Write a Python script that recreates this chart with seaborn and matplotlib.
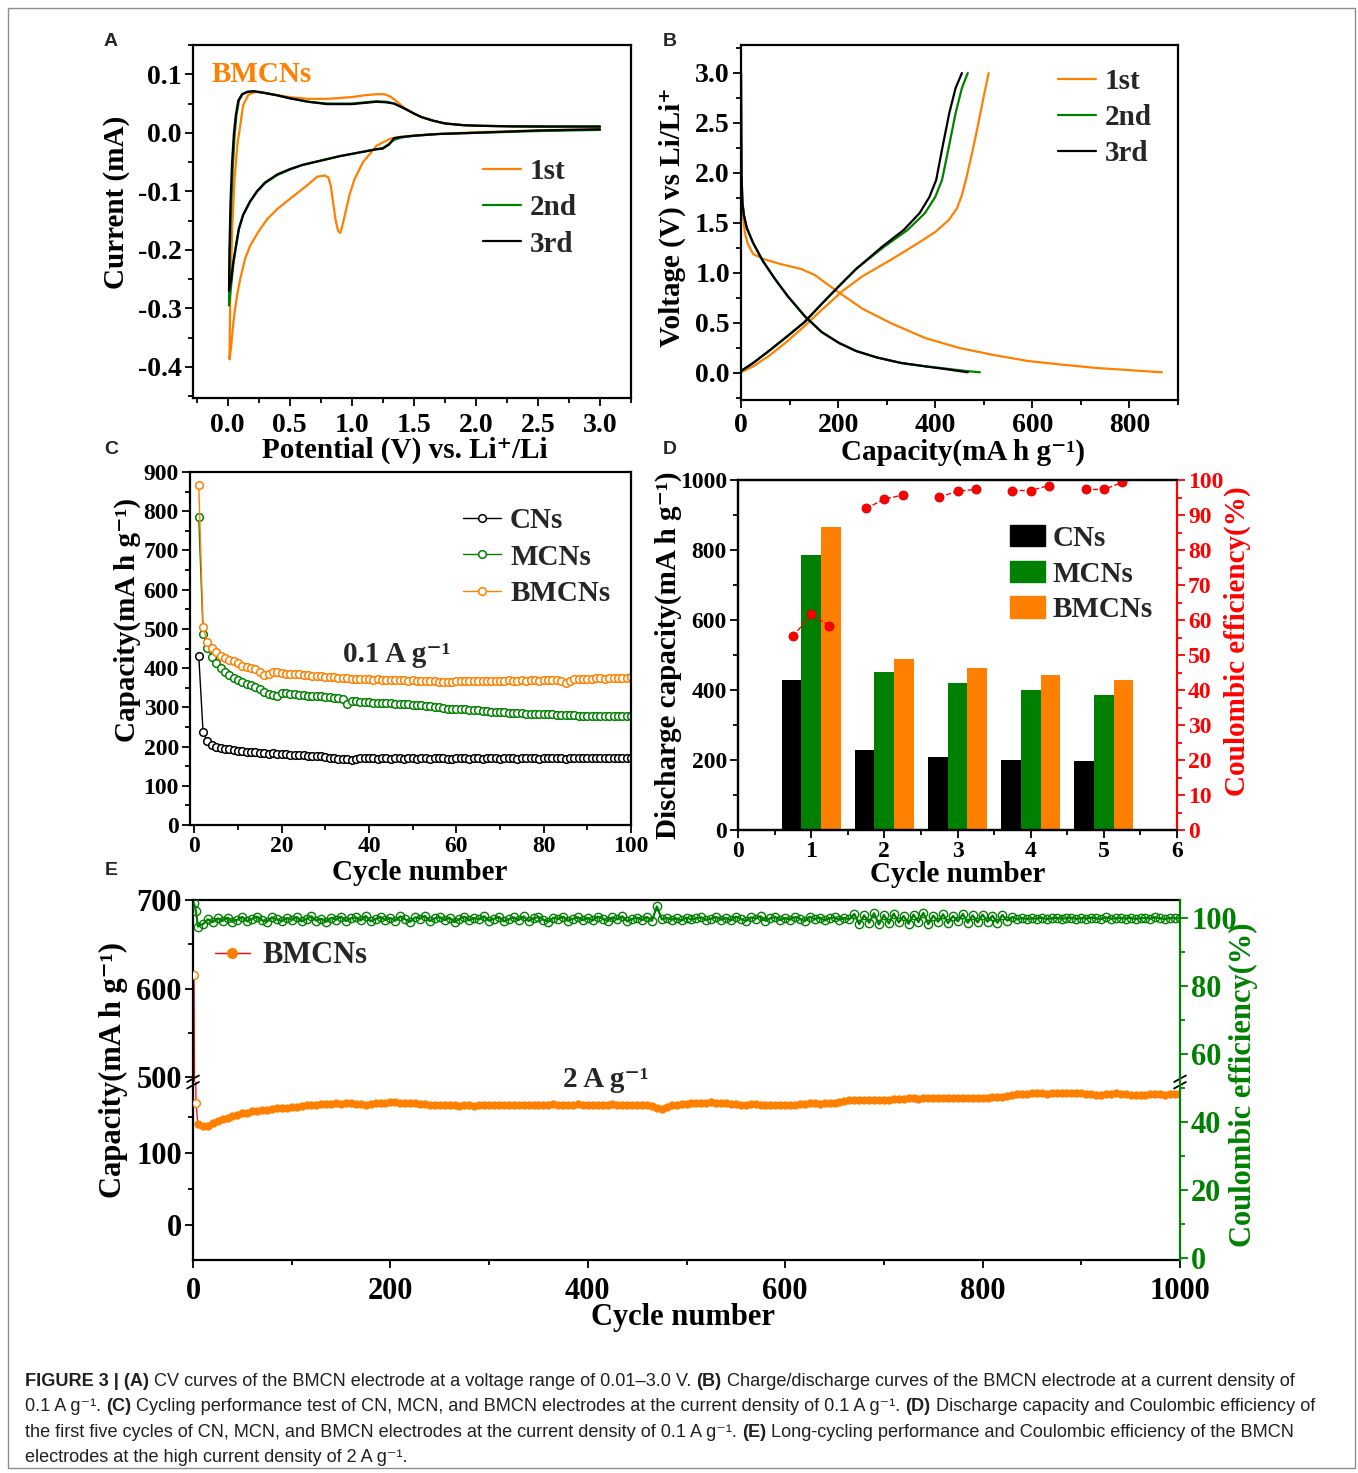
import matplotlib
matplotlib.use("Agg")
import matplotlib.pyplot as plt
import pandas as pd
import seaborn as sns
from matplotlib.lines import Line2D
from matplotlib.patches import Patch, Rectangle
from matplotlib.ticker import MultipleLocator

# ── data ──────────────────────────────────────────────────────────────
# (A) CV curves, each cycle = cathodic sweep then anodic sweep
cv1_v = [3.0, 2.5, 2.0, 1.8, 1.6, 1.5, 1.4, 1.31, 1.2, 1.09, 1.02, 0.98, 0.95, 0.92, 0.906,
         0.89, 0.87, 0.85, 0.83, 0.81, 0.78, 0.72, 0.65, 0.5, 0.4, 0.32, 0.25, 0.18, 0.14, 0.1,
         0.075, 0.055, 0.04, 0.028, 0.014,
         0.02, 0.036, 0.055, 0.077, 0.097, 0.124, 0.166, 0.21, 0.26, 0.32, 0.5, 0.65, 0.8, 1.0,
         1.1, 1.2, 1.26, 1.31, 1.36, 1.42, 1.5, 1.56, 1.65, 1.75, 1.9, 2.03, 2.3, 2.6, 3.0]
cv1_i = [0.006, 0.004, 0.001, -0.001, -0.003, -0.005, -0.007, -0.010, -0.022, -0.05, -0.08,
         -0.107, -0.135, -0.162, -0.171, -0.168, -0.15, -0.12, -0.09, -0.076, -0.073, -0.075,
         -0.088, -0.113, -0.13, -0.147, -0.168, -0.193, -0.215, -0.25, -0.278, -0.307, -0.335,
         -0.364, -0.387,
         -0.28, -0.164, -0.078, -0.021, 0.007, 0.047, 0.065, 0.069, 0.07, 0.067, 0.061, 0.058,
         0.058, 0.061, 0.064, 0.066, 0.066, 0.062, 0.054, 0.043, 0.033, 0.027, 0.021, 0.016,
         0.013, 0.012, 0.011, 0.01, 0.01]
cv2_v = [3.0, 2.5, 2.0, 1.7, 1.5, 1.4, 1.34, 1.3, 1.25, 1.2, 1.1, 1.0, 0.9, 0.8, 0.7, 0.6, 0.5,
         0.4, 0.3, 0.235, 0.18, 0.124, 0.09, 0.07, 0.045, 0.028, 0.018, 0.01,
         0.015, 0.025, 0.04, 0.055, 0.07, 0.09, 0.12, 0.16, 0.21, 0.3, 0.4, 0.5, 0.65, 0.8, 1.0,
         1.1, 1.2, 1.28, 1.34, 1.42, 1.5, 1.56, 1.65, 1.75, 1.9, 2.03, 2.3, 2.6, 3.0]
cv2_i = [0.005, 0.003, 0.0, -0.002, -0.005, -0.008, -0.012, -0.019, -0.026, -0.028, -0.032,
         -0.036, -0.04, -0.045, -0.05, -0.055, -0.063, -0.072, -0.086, -0.101, -0.118, -0.141,
         -0.165, -0.19, -0.225, -0.26, -0.28, -0.295,
         -0.22, -0.14, -0.06, -0.005, 0.03, 0.055, 0.066, 0.07, 0.071, 0.068, 0.064, 0.059,
         0.053, 0.05, 0.05, 0.052, 0.054, 0.053, 0.05, 0.042, 0.033, 0.027, 0.021, 0.016, 0.013,
         0.012, 0.011, 0.01, 0.01]
cv3_v = [3.0, 2.5, 2.0, 1.7, 1.5, 1.4, 1.34, 1.3, 1.25, 1.2, 1.1, 1.0, 0.9, 0.8, 0.7, 0.6, 0.5,
         0.4, 0.3, 0.235, 0.18, 0.124, 0.09, 0.07, 0.045, 0.028, 0.018, 0.01,
         0.014, 0.022, 0.035, 0.05, 0.065, 0.085, 0.115, 0.16, 0.21, 0.3, 0.4, 0.5, 0.65, 0.8,
         1.0, 1.1, 1.2, 1.28, 1.34, 1.42, 1.5, 1.56, 1.65, 1.75, 1.9, 2.03, 2.3, 2.6, 3.0]
cv3_i = [0.006, 0.004, 0.0, -0.002, -0.005, -0.007, -0.009, -0.02, -0.027, -0.028, -0.032,
         -0.036, -0.04, -0.045, -0.05, -0.055, -0.062, -0.071, -0.085, -0.1, -0.117, -0.14,
         -0.163, -0.188, -0.22, -0.25, -0.262, -0.27,
         -0.2, -0.12, -0.05, 0.0, 0.03, 0.055, 0.066, 0.07, 0.071, 0.068, 0.064, 0.059, 0.053,
         0.049, 0.049, 0.051, 0.053, 0.052, 0.05, 0.042, 0.033, 0.027, 0.021, 0.016, 0.013,
         0.012, 0.011, 0.011, 0.011]

# (B) charge / discharge profiles
dis1_cap = [0, 3.5, 8, 14, 25, 46, 81, 124, 152, 180, 209, 251, 308, 379, 450, 520, 591, 662,
            733, 804, 867]
dis1_v = [1.7, 1.6, 1.4, 1.29, 1.19, 1.14, 1.09, 1.04, 0.98, 0.88, 0.78, 0.64, 0.5, 0.35, 0.25,
          0.18, 0.12, 0.083, 0.05, 0.027, 0.007]
chg1_cap = [0, 25, 60, 96, 131, 166, 209, 251, 308, 365, 400, 428, 445, 455, 464, 474, 486,
            498, 510]
chg1_v = [0.007, 0.066, 0.18, 0.32, 0.47, 0.63, 0.82, 0.97, 1.13, 1.30, 1.41, 1.53, 1.65, 1.78,
          1.95, 2.16, 2.43, 2.72, 3.0]
dis2_cap = [0, 1, 3, 6, 12, 25, 45, 70, 96, 131, 166, 202, 237, 280, 330, 379, 420, 460, 492]
dis2_v = [3.0, 2.0, 1.7, 1.58, 1.45, 1.3, 1.12, 0.94, 0.77, 0.57, 0.41, 0.3, 0.22, 0.155, 0.1,
          0.067, 0.045, 0.022, 0.007]
chg2_cap = [0, 25, 60, 96, 131, 166, 202, 237, 294, 343, 379, 400, 414, 428, 442, 455, 467]
chg2_v = [0.02, 0.1, 0.23, 0.37, 0.51, 0.69, 0.87, 1.04, 1.26, 1.43, 1.6, 1.76, 1.93, 2.26, 2.6,
          2.85, 3.0]
dis3_cap = [0, 1, 3, 6, 12, 25, 45, 70, 96, 131, 166, 202, 237, 280, 330, 379, 420, 467]
dis3_v = [3.0, 2.0, 1.7, 1.58, 1.45, 1.3, 1.12, 0.94, 0.77, 0.57, 0.41, 0.3, 0.22, 0.155, 0.1,
          0.067, 0.04, 0.007]
chg3_cap = [0, 25, 60, 96, 131, 166, 202, 237, 290, 335, 368, 388, 402, 415, 429, 442, 455]
chg3_v = chg2_v

# (C) cycling at 0.1 A/g, cycles 1..100
cap_cn = [432, 236, 213, 205, 200, 197, 195, 193, 191, 189, 188, 187, 186, 185, 184, 183, 182,
          183, 182, 181, 180, 179, 178, 178, 178, 177, 177, 176, 175, 174, 172, 170, 169, 168,
          167, 166, 168, 170, 170, 170,
          170, 169, 170, 170, 169, 170, 170, 169, 170, 170, 169, 170, 170, 169, 170, 170, 170,
          169, 169, 170, 170, 170, 169, 170, 170, 169, 170, 170, 170, 169, 170, 170, 170, 169,
          170, 170, 170, 170, 169, 170, 170, 170, 170, 170, 169, 170, 170, 170, 171, 170, 170,
          170, 171, 170, 170, 171, 170, 171, 171, 171]
cap_mcn = [785, 488, 452, 428, 412, 400, 390, 382, 375, 370, 365, 360, 356, 352, 348, 340, 334,
           331, 330, 337, 336, 334, 333, 332, 331, 330, 329, 329, 328, 327, 326, 325, 324, 322,
           308, 316, 315, 314, 313, 313, 312, 311, 311, 310, 310, 309, 309, 308, 308, 307, 306,
           305, 304, 303, 302, 300, 298, 297, 297, 296, 296, 295, 294, 293, 292, 291, 290, 289,
           288, 287, 287, 286, 286, 285, 285, 284, 284, 283, 283, 283, 282, 282, 281, 281, 280,
           280, 280, 279, 279, 279, 278, 278, 278, 278, 277, 277, 277, 277, 277, 277]
cap_bmcn = [868, 505, 466, 452, 440, 432, 425, 420, 417, 412, 406, 403, 400, 397, 390, 383, 386,
            390, 389, 387, 386, 385, 384, 384, 383, 382, 381, 380, 379, 378, 378, 377, 376, 375,
            374, 372, 371, 372, 371, 371, 370, 371, 370, 370, 369, 370, 369, 369, 368, 369, 368,
            368, 367, 367, 366, 365, 364, 365, 365, 366, 366, 367, 367, 368, 368, 367, 368, 368,
            367, 368, 368, 369, 368, 368, 369, 368, 369, 369, 368, 369, 369, 370, 369, 368, 362,
            368, 371, 372, 372, 373, 373, 374, 374, 373, 374, 375, 375, 376, 376, 377]

# (D) first five cycles
d_cycles = [1, 2, 3, 4, 5]
d_cn = [429, 230, 209, 200, 198]
d_mcn = [785, 451, 420, 401, 387]
d_bmcn = [867, 489, 464, 443, 429]
ce_cn = [55.3, 91.9, 95.1, 97.0, 97.3]
ce_mcn = [61.6, 94.5, 96.8, 97.0, 97.3]
ce_bmcn = [58.4, 95.7, 97.3, 98.4, 99.3]

# (E) long cycling at 2 A/g, cycles 1, 3, then every 5th cycle
e_first = [1, 3]
e_step_cycles = list(range(5, 1001, 5))
e_cap = [615, 170,
         140, 137, 138, 141, 144, 147, 149, 151, 153, 155, 156, 158, 159, 160, 160, 161, 162, 162, 163, 164,
         164, 165, 166, 166, 167, 168, 168, 168, 169, 168, 169, 169, 168, 168, 167, 168, 169, 170, 170, 171,
         171, 170, 170, 169, 169, 168, 168, 167, 167, 166, 166, 167, 166, 165, 166, 166, 165, 166, 166, 166,
         166, 167, 166, 166, 167, 167, 166, 167, 167, 166, 167, 167, 168, 167, 166, 167, 167, 168, 167, 167,
         167, 166, 167, 167, 168, 167, 166, 167, 166, 167, 166, 166, 165, 162, 161, 164, 166, 167, 168, 168,
         169, 169, 170, 170, 171, 170, 170, 169, 168, 168, 167, 167, 168, 168, 167, 166, 167, 166, 166, 166,
         166, 167, 168, 168, 169, 169, 168, 169, 170, 170, 171, 172, 173, 174, 174, 174, 173, 174, 174, 174,
         174, 175, 175, 175, 176, 176, 175, 176, 176, 176, 177, 177, 176, 177, 177, 176, 177, 177, 177, 177,
         177, 178, 178, 178, 179, 181, 182, 182, 182, 183, 183, 183, 182, 183, 183, 184, 183, 183, 183, 183,
         182, 182, 181, 181, 182, 182, 183, 182, 182, 181, 180, 180, 181, 182, 182, 182, 181, 182, 182, 182]
e_ce = [104.4, 102.0,
        97.5, 98.2, 99.6, 98.8, 99.9, 99.2, 100.1, 98.9, 99.5, 100.3, 99.0, 99.8, 100.4, 99.3, 98.9, 100.2, 99.6, 99.1, 100.0, 99.4,
        100.3, 99.0, 99.7, 100.5, 99.2, 99.8, 98.9, 100.1, 99.5, 100.4, 99.1, 99.9, 100.2, 99.3, 100.6, 99.0, 99.7, 100.3, 99.4, 100.0,
        99.2, 100.5, 99.6, 98.9, 100.2, 99.8, 100.6, 99.1, 99.9, 100.3, 99.4, 100.1, 98.8, 99.7, 100.4, 99.3, 100.0, 99.6, 100.5, 99.2,
        99.8, 100.3, 99.0, 99.6, 100.2, 99.4, 100.5, 99.1, 99.9, 100.3, 99.5, 98.9, 100.1, 99.7, 100.4, 99.2, 99.8, 100.2, 99.4, 100.0,
        99.3, 100.4, 99.8, 99.1, 100.2, 99.6, 100.5, 99.0, 99.7, 100.1, 99.4, 100.3, 99.2, 103.4, 99.6, 100.0, 99.5, 99.9, 99.3, 100.1,
        99.6, 99.9, 100.2, 99.4, 99.8, 100.3, 99.5, 100.0, 99.3, 100.4, 99.7, 99.1, 100.2, 99.8, 100.5, 99.2, 99.9, 100.3, 99.4, 100.0,
        99.5, 100.3, 99.7, 99.1, 100.4, 99.6, 100.1, 99.3, 99.9, 100.2, 99.5, 100.0, 99.6, 101.2, 98.2, 100.8, 98.6, 101.4, 98.1, 100.9,
        98.4, 101.3, 98.7, 100.6, 98.3, 101.0, 98.8, 101.5, 98.2, 100.7, 98.9, 101.1, 98.5, 100.6, 99.0, 101.2, 98.6, 100.8, 98.7, 101.0,
        98.9, 100.7, 98.6, 100.9, 99.2, 100.3, 99.6, 100.0, 99.7, 99.9, 99.8, 100.1, 99.7, 99.9, 100.0, 99.8, 99.9, 100.1, 99.7, 100.0,
        99.8, 100.1, 99.9, 99.7, 100.2, 99.8, 99.9, 100.0, 99.8, 100.1, 99.7, 99.9, 100.0, 99.8, 100.2, 99.9, 99.7, 100.0, 99.9, 99.9]

# ── style ─────────────────────────────────────────────────────────────
W, H = 1358, 1473
ORANGE = "#ff8000"
GREEN = "#008000"
RED = "#ff0000"
SERIF = ["Liberation Serif", "DejaVu Serif"]
SANS = ["Liberation Sans", "DejaVu Sans"]
CAP_COLOR = "#231f20"

sns.set_theme(style="ticks")
plt.rcParams["font.family"] = SERIF
plt.rcParams["font.weight"] = "bold"
plt.rcParams["axes.labelweight"] = "bold"
plt.rcParams["axes.unicode_minus"] = False
plt.rcParams["axes.edgecolor"] = "black"
plt.rcParams["legend.frameon"] = False

fig = plt.figure(figsize=(W / 100, H / 100), dpi=100)


def box(l, t, r, b):
    return [l / W, 1 - b / H, (r - l) / W, (b - t) / H]


def style_ax(ax, size, color="black", pad=2):
    ax.tick_params(which="both", direction="out", width=1.3, colors=color,
                   labelsize=size, pad=pad)
    ax.tick_params(which="major", length=6)
    ax.tick_params(which="minor", length=3.5)
    for sp in ax.spines.values():
        sp.set_linewidth(1.6)
        sp.set_edgecolor("black")
    ax.set_xlabel("")
    ax.set_ylabel("")


def ftext(x, y, s, size=21, rot=0, color="black", **kw):
    fig.text(x / W, 1 - y / H, s, fontsize=size, rotation=rot, color=color,
             ha="center", va="center", fontweight="bold", family=SERIF, **kw)


def legend_at(ax, x, y, handles=None, **kw):
    opts = dict(loc="upper left", bbox_to_anchor=(x, y), fontsize=21, borderpad=0,
                borderaxespad=0, handletextpad=0.3, labelspacing=0.32, handlelength=1.4)
    opts.update(kw)
    if handles is not None:
        return ax.legend(handles=handles, **opts)
    return ax.legend(**opts)


# ── Panel A: CV ───────────────────────────────────────────────────────
axA = fig.add_axes(box(193, 45, 631, 398))
for v, i, col, lab in [(cv1_v, cv1_i, ORANGE, "1st"), (cv2_v, cv2_i, GREEN, "2nd"),
                       (cv3_v, cv3_i, "black", "3rd")]:
    sns.lineplot(x=v, y=i, sort=False, estimator=None, color=col, lw=1.6, label=lab, ax=axA)
axA.set_xlim(-0.28, 3.25)
axA.set_ylim(-0.453, 0.15)
axA.xaxis.set_major_locator(MultipleLocator(0.5))
axA.xaxis.set_minor_locator(MultipleLocator(0.25))
axA.yaxis.set_major_locator(MultipleLocator(0.1))
axA.yaxis.set_minor_locator(MultipleLocator(0.05))
style_ax(axA, 20)
axA.tick_params(axis="x", pad=5)
legend_at(axA, 0.662, 0.68, handlelength=1.3)
axA.text(-0.13, 0.1, "BMCNs", color=ORANGE, fontsize=21, fontweight="bold",
         ha="left", va="center")
ftext(117, 202, "Current (mA)", rot=90)
ftext(405, 450, "Potential (V) vs. Li\u207a/Li")

# ── Panel B: charge/discharge ─────────────────────────────────────────
axB = fig.add_axes(box(741, 45, 1178, 400))
for caps, vs, col, lab in [(dis1_cap, dis1_v, ORANGE, "1st"), (chg1_cap, chg1_v, ORANGE, None),
                           (dis2_cap, dis2_v, GREEN, "2nd"), (chg2_cap, chg2_v, GREEN, None),
                           (dis3_cap, dis3_v, "black", "3rd"), (chg3_cap, chg3_v, "black", None)]:
    sns.lineplot(x=caps, y=vs, sort=False, estimator=None, color=col, lw=1.6, label=lab, ax=axB)
axB.set_xlim(0, 900)
axB.set_ylim(-0.27, 3.28)
axB.xaxis.set_major_locator(MultipleLocator(200))
axB.xaxis.set_minor_locator(MultipleLocator(100))
axB.yaxis.set_major_locator(MultipleLocator(0.5))
axB.yaxis.set_minor_locator(MultipleLocator(0.25))
style_ax(axB, 20)
axB.tick_params(axis="x", pad=3)
legend_at(axB, 0.725, 0.936, handlelength=1.3)
ftext(672, 217, "Voltage (V) vs Li/Li\u207a", rot=90)
ftext(963, 452, "Capacity(mA h g\u207b\u00b9)")

# ── Panel C: cycling 0.1 A/g ──────────────────────────────────────────
axC = fig.add_axes(box(190, 472, 631, 825))
c_cycles = list(range(1, len(cap_cn) + 1))
for vals, col, lab in [(cap_cn, "black", "CNs"), (cap_mcn, GREEN, "MCNs"),
                       (cap_bmcn, ORANGE, "BMCNs")]:
    sns.lineplot(x=c_cycles, y=vals, estimator=None, color=col, lw=1.0, marker="o",
                 markersize=5.5, markerfacecolor="white", markeredgecolor=col,
                 markeredgewidth=1.1, label=lab, ax=axC)
axC.set_xlim(-1, 100)
axC.set_ylim(0, 900)
axC.xaxis.set_major_locator(MultipleLocator(20))
axC.xaxis.set_minor_locator(MultipleLocator(10))
axC.yaxis.set_major_locator(MultipleLocator(100))
axC.yaxis.set_minor_locator(MultipleLocator(50))
style_ax(axC, 17)
legend_at(axC, 0.62, 0.9, numpoints=1, handlelength=1.3)
axC.text(34, 434, "0.1 A g\u207b\u00b9", fontsize=21, fontweight="bold", ha="left", va="center")
ftext(127, 620, "Capacity(mA h g\u207b\u00b9)", rot=90)
ftext(420, 873, "Cycle number")

# ── Panel D: first five cycles ────────────────────────────────────────
axD = fig.add_axes(box(738, 480, 1177, 830))
samples = ["CNs", "MCNs", "BMCNs"]
pal = {"CNs": "black", "MCNs": GREEN, "BMCNs": ORANGE}
df_bar = pd.DataFrame({
    "cycle": d_cycles * 3,
    "capacity": d_cn + d_mcn + d_bmcn,
    "sample": [s for s in samples for _ in d_cycles],
})
sns.barplot(data=df_bar, x="cycle", y="capacity", hue="sample", hue_order=samples,
            palette=pal, native_scale=True, width=0.81, errorbar=None, saturation=1,
            linewidth=0, legend=False, ax=axD)
axD.set_xlim(0, 6)
axD.set_ylim(0, 1000)
axD.xaxis.set_major_locator(MultipleLocator(1))
axD.xaxis.set_minor_locator(MultipleLocator(0.5))
axD.yaxis.set_major_locator(MultipleLocator(200))
axD.yaxis.set_minor_locator(MultipleLocator(100))
style_ax(axD, 17)
axD.spines["right"].set_visible(False)
legend_at(axD, 0.62, 0.872,
          handles=[Patch(color=pal[s], label=s) for s in samples],
          handlelength=1.2, handleheight=0.75, handletextpad=0.25, labelspacing=0.3)

axD2 = axD.twinx()
offsets = [-0.25, 0.0, 0.25]
df_ce = pd.DataFrame({
    "pos": [c + off for off in offsets for c in d_cycles],
    "ce": ce_cn + ce_mcn + ce_bmcn,
    "cycle": d_cycles * 3,
})
sns.lineplot(data=df_ce, x="pos", y="ce", units="cycle", estimator=None, color=RED,
             linestyle="--", lw=1.0, marker="o", markersize=6.5, markeredgecolor="#d00000",
             markeredgewidth=0.6, ax=axD2)
axD2.set_ylim(0, 100)
axD2.yaxis.set_major_locator(MultipleLocator(10))
axD2.yaxis.set_minor_locator(MultipleLocator(5))
style_ax(axD2, 17, color=RED)
axD2.spines["right"].set_edgecolor(RED)
ftext(668, 655, "Discharge capacity(mA h g\u207b\u00b9)", rot=90)
ftext(1237, 641, "Coulombic efficiency(%)", rot=90, color=RED)
ftext(958, 875, "Cycle number")

# ── Panel E: long cycling 2 A/g with broken capacity axis ─────────────
e_cycles = e_first + e_step_cycles
axEt = fig.add_axes(box(193, 900, 1180, 1082))
axEb = fig.add_axes(box(193, 1082, 1180, 1260))
for ax in (axEt, axEb):
    sns.lineplot(x=e_cycles, y=e_cap, estimator=None, color=RED, lw=0.9, marker="o",
                 markersize=5, markerfacecolor=ORANGE, markeredgecolor=ORANGE,
                 markeredgewidth=1.0, ax=ax)
    sns.scatterplot(x=e_first, y=e_cap[:len(e_first)], marker="o", s=30,
                    facecolor="white", edgecolor=ORANGE, linewidth=1.0, zorder=5, ax=ax)
    ax.set_xlim(0, 1000)
    ax.yaxis.set_major_locator(MultipleLocator(100))
    ax.yaxis.set_minor_locator(MultipleLocator(50))
    style_ax(ax, 22)
    ax.spines["right"].set_visible(False)
axEt.set_ylim(494.4, 700)
axEb.set_ylim(-48.6, 198.6)
axEt.spines["bottom"].set_visible(False)
axEb.spines["top"].set_visible(False)
axEt.tick_params(axis="x", which="both", bottom=False, labelbottom=False)
axEb.xaxis.set_major_locator(MultipleLocator(200))
axEb.xaxis.set_minor_locator(MultipleLocator(100))
axEb.tick_params(axis="x", pad=6)

axEc = fig.add_axes(box(193, 900, 1180, 1260))
axEc.patch.set_alpha(0)
sns.lineplot(x=e_cycles, y=e_ce, estimator=None, color=GREEN, lw=1.6, marker="o",
             markersize=6, markerfacecolor="none", markeredgecolor=GREEN,
             markeredgewidth=1.0, ax=axEc)
axEc.set_xlim(0, 1000)
axEc.set_ylim(-0.6, 105.3)
axEc.yaxis.tick_right()
axEc.yaxis.set_major_locator(MultipleLocator(20))
axEc.yaxis.set_minor_locator(MultipleLocator(10))
style_ax(axEc, 22, color=GREEN)
axEc.tick_params(axis="x", which="both", bottom=False, labelbottom=False)
for side in ("left", "top", "bottom"):
    axEc.spines[side].set_visible(False)
axEc.spines["right"].set_edgecolor(GREEN)
legend_at(axEc, 0.022, 0.885,
          handles=[Line2D([], [], color=RED, lw=1.0, marker="o", markersize=7,
                          markerfacecolor=ORANGE, markeredgecolor=ORANGE, label="BMCNs")],
          fontsize=22, handlelength=1.15, handletextpad=0.4, numpoints=1)
axEc.text(418, 52.4, "2 A g\u207b\u00b9", fontsize=21, fontweight="bold", ha="center", va="center")
# axis-break marks
ybrk = (1260 - 1082) / 360
for xb in (0.0, 1.0):
    for dy in (-0.009, 0.009):
        axEc.plot([xb - 0.006, xb + 0.006], [ybrk + dy - 0.009, ybrk + dy + 0.009],
                  color="black", lw=1.3, transform=axEc.transAxes, clip_on=False)
ftext(113, 1070, "Capacity(mA h g\u207b\u00b9)", rot=90, size=22)
ftext(1243, 1085, "Coulombic efficiency(%)", rot=90, size=22, color=GREEN)
ftext(683, 1318, "Cycle number", size=22)

# ── panel letters, frame and caption ──────────────────────────────────
for lab, x, y in [("A", 111, 42), ("B", 670, 42), ("C", 111, 450), ("D", 670, 450),
                  ("E", 111, 870)]:
    fig.text(x / W, 1 - y / H, lab, family=SANS, fontweight="bold", fontsize=14,
             ha="center", va="center")
fig.add_artist(Rectangle((8 / W, 1 - 1468 / H), (1355 - 8) / W, (1468 - 8) / H,
                         transform=fig.transFigure, fill=False, ec="#8c8c8c", lw=1.0))

caption = [
    [("FIGURE 3 | (A)", True), (" CV curves of the BMCN electrode at a voltage range of 0.01\u20133.0 V. ", False),
     ("(B)", True), (" Charge/discharge curves of the BMCN electrode at a current density of", False)],
    [("0.1 A g\u207b\u00b9. ", False), ("(C)", True),
     (" Cycling performance test of CN, MCN, and BMCN electrodes at the current density of 0.1 A g\u207b\u00b9. ", False),
     ("(D)", True), (" Discharge capacity and Coulombic efficiency of", False)],
    [("the first five cycles of CN, MCN, and BMCN electrodes at the current density of 0.1 A g\u207b\u00b9. ", False),
     ("(E)", True), (" Long-cycling performance and Coulombic efficiency of the BMCN", False)],
    [("electrodes at the high current density of 2 A g\u207b\u00b9.", False)],
]
renderer = fig.canvas.get_renderer()
for k, runs in enumerate(caption):
    x = 25.0
    y = 1386 + k * 25.4
    for s, bold in runs:
        t = fig.text(x / W, 1 - y / H, s, family=SANS, fontsize=13.05, color=CAP_COLOR,
                     fontweight="bold" if bold else "normal", ha="left", va="baseline")
        x += t.get_window_extent(renderer).width

fig.savefig("out.png", dpi=100)
